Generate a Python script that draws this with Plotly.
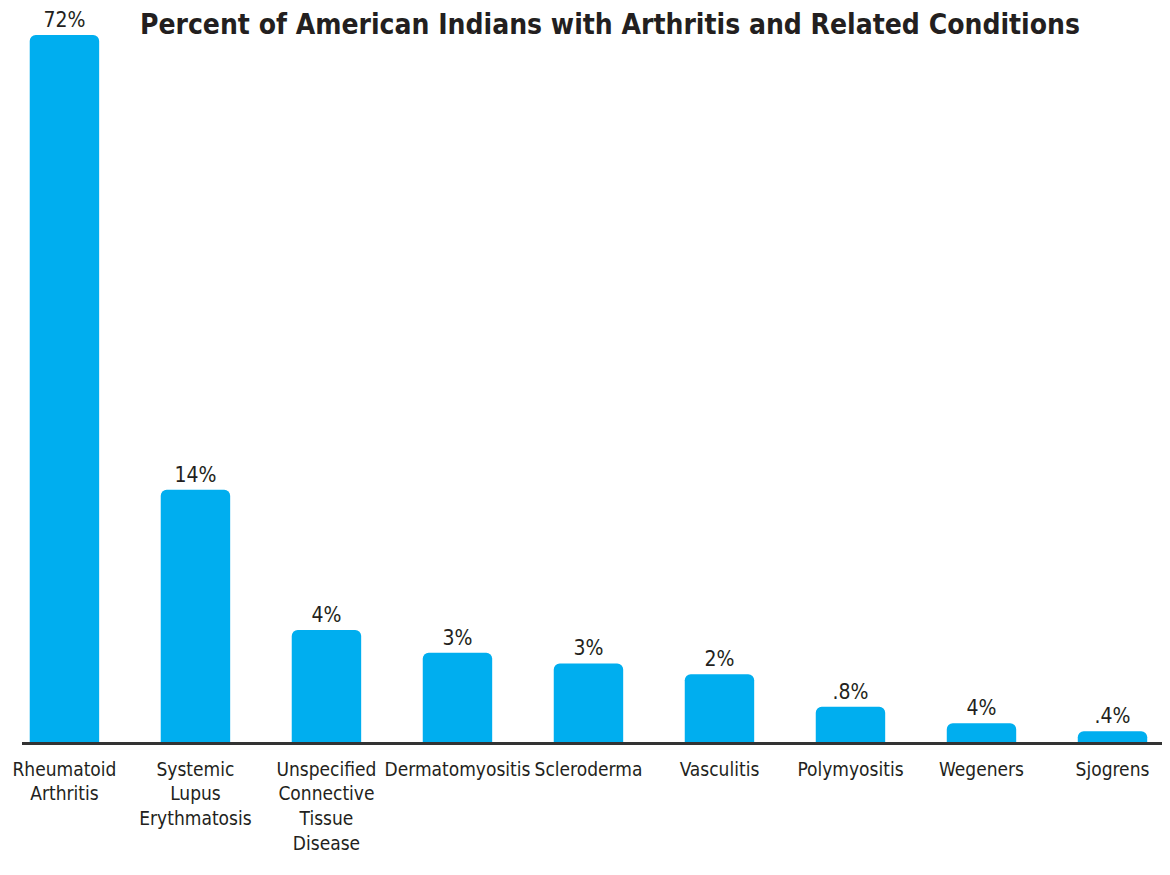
import plotly.graph_objects as go

# Data
categories = [
    "Rheumatoid<br>Arthritis",
    "Systemic<br>Lupus<br>Erythmatosis",
    "Unspecified<br>Connective<br>Tissue<br>Disease",
    "Dermatomyositis",
    "Scleroderma",
    "Vasculitis",
    "Polymyositis",
    "Wegeners",
    "Sjogrens",
]
# printed value labels
value_labels = ["72%", "14%", "4%", "3%", "3%", "2%", ".8%", "4%", ".4%"]
# drawn bar heights (in the 72% bar's units)
bar_heights = [72, 25.7, 11.4, 9.1, 8.0, 6.9, 3.6, 1.9, 1.1]

BLUE = "#00AEEF"
DARK = "#231F20"
LABEL_FONT = "DejaVu Sans Condensed, Liberation Sans Narrow, sans-serif"

fig = go.Figure(
    go.Bar(
        x=categories,
        y=bar_heights,
        text=value_labels,
        textposition="outside",
        textfont=dict(family=LABEL_FONT, size=21, color=DARK),
        marker=dict(color=BLUE, line=dict(width=0)),
        width=0.53,
        cliponaxis=False,
        hoverinfo="skip",
    )
)

fig.update_layout(
    width=1170,
    height=875,
    paper_bgcolor="white",
    plot_bgcolor="white",
    margin=dict(l=14, r=8, t=27, b=141, autoexpand=False),
    barcornerradius=6,
    showlegend=False,
    title=dict(
        text="<b>Percent of American Indians with Arthritis and Related Conditions</b>",
        x=0.5145,
        xanchor="center",
        y=0.982,
        yanchor="middle",
        font=dict(family=LABEL_FONT, size=28, color=DARK),
    ),
    xaxis=dict(
        type="category",
        range=[-0.324, 8.439],
        showline=True,
        linecolor="#333333",
        linewidth=2.5,
        ticks="",
        tickangle=0,
        ticklabelstandoff=8,
        automargin=False,
        showgrid=False,
        tickfont=dict(family=LABEL_FONT, size=19, color=DARK),
        fixedrange=True,
    ),
    yaxis=dict(
        range=[0, 72],
        visible=False,
        showgrid=False,
        zeroline=False,
        fixedrange=True,
    ),
)

fig.write_html("out.html")
